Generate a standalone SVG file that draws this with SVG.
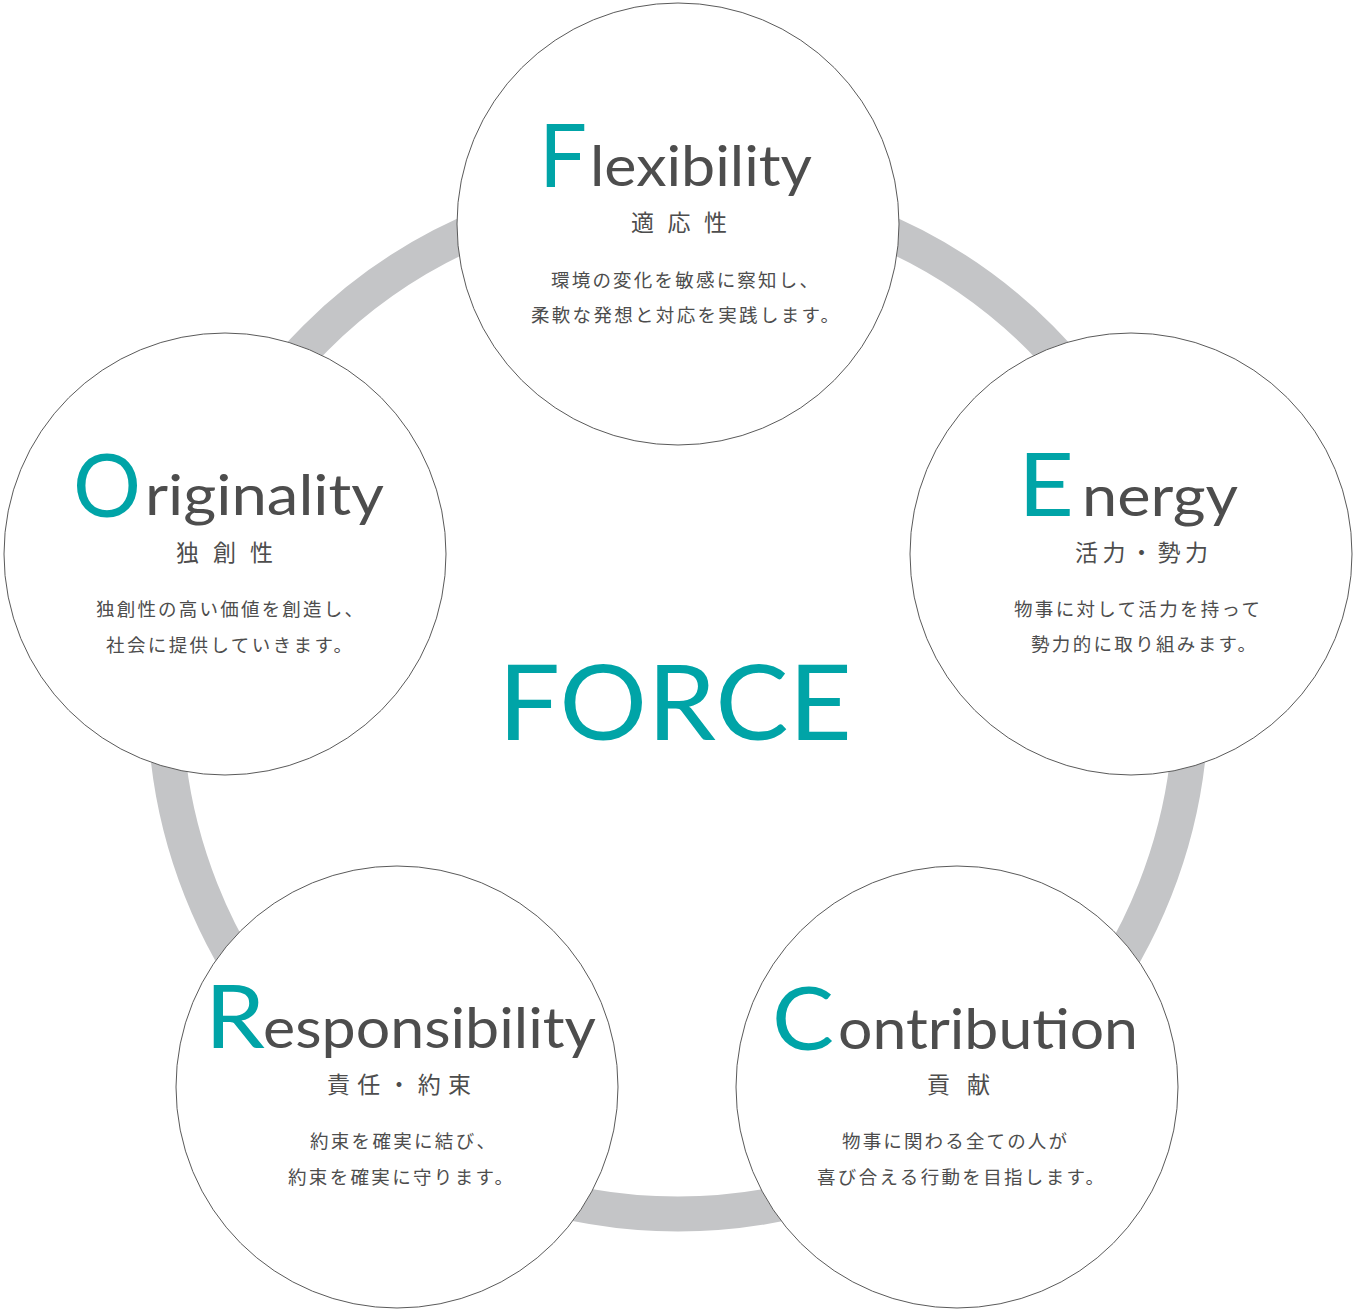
<svg xmlns="http://www.w3.org/2000/svg" width="1354" height="1310" viewBox="0 0 1354 1310">
<style>
.ring{fill:none;stroke:#c4c5c7;stroke-width:35}
.node{fill:#fff;stroke:#5a5a5a;stroke-width:1}
.cap{font-family:Lato,"Open Sans","Noto Sans",sans-serif;fill:#00a4a7;font-size:87px}
.word{font-family:Lato,"Open Sans","Noto Sans",sans-serif;fill:#4d4d4d;font-size:57px}
.sub{font-family:"Noto Sans CJK JP",sans-serif;fill:#4d4d4d;font-size:23px}
.desc{font-family:"Noto Sans CJK JP",sans-serif;fill:#4d4d4d;font-size:18.5px}
.force{font-family:Lato,"Open Sans","Noto Sans",sans-serif;fill:#00a4a7;font-size:104px}
</style>
<rect width="1354" height="1310" fill="#fff"/>
<g id="connectors">
<circle class="ring" cx="678" cy="701" r="513"/>
</g>
<g id="flexibility">
<circle class="node" cx="678" cy="224" r="221"/>
<text class="cap" x="539" y="187" textLength="48" lengthAdjust="spacingAndGlyphs">F</text>
<text class="word" x="590" y="186" textLength="222" lengthAdjust="spacingAndGlyphs">lexibility</text>
<text class="sub" x="631" y="231" textLength="96">適応性</text>
<text class="desc" x="551" y="287" textLength="267">環境の変化を敏感に察知し、</text>
<text class="desc" x="531" y="322" textLength="308">柔軟な発想と対応を実践します。</text>
</g>
<g id="energy">
<circle class="node" cx="1131" cy="554" r="221"/>
<text class="cap" x="1018" y="516" textLength="56" lengthAdjust="spacingAndGlyphs">E</text>
<text class="word" x="1082" y="516" textLength="156" lengthAdjust="spacingAndGlyphs">nergy</text>
<text class="sub" x="1075" y="561" textLength="133">活力・勢力</text>
<text class="desc" x="1014" y="616" textLength="246">物事に対して活力を持って</text>
<text class="desc" x="1031" y="651" textLength="225">勢力的に取り組みます。</text>
</g>
<g id="originality">
<circle class="node" cx="225" cy="554" r="221"/>
<text class="cap" x="73" y="517" textLength="68" lengthAdjust="spacingAndGlyphs">O</text>
<text class="word" x="145" y="515" textLength="239" lengthAdjust="spacingAndGlyphs">riginality</text>
<text class="sub" x="176" y="561" textLength="97">独創性</text>
<text class="desc" x="96" y="616" textLength="267">独創性の高い価値を創造し、</text>
<text class="desc" x="106" y="652" textLength="246">社会に提供していきます。</text>
</g>
<g id="responsibility">
<circle class="node" cx="397" cy="1087" r="221"/>
<text class="cap" x="205" y="1048" textLength="60" lengthAdjust="spacingAndGlyphs">R</text>
<text class="word" x="263" y="1048" textLength="333" lengthAdjust="spacingAndGlyphs">esponsibility</text>
<text class="sub" x="327" y="1093" textLength="144">責任・約束</text>
<text class="desc" x="310" y="1148" textLength="185">約束を確実に結び、</text>
<text class="desc" x="288" y="1184" textLength="225">約束を確実に守ります。</text>
</g>
<g id="contribution">
<circle class="node" cx="957" cy="1087" r="221"/>
<text class="cap" x="772" y="1050" textLength="62" lengthAdjust="spacingAndGlyphs">C</text>
<text class="word" x="838" y="1049" textLength="300" lengthAdjust="spacingAndGlyphs">ontribution</text>
<text class="sub" x="927" y="1093" textLength="63">貢献</text>
<text class="desc" x="842" y="1148" textLength="225">物事に関わる全ての人が</text>
<text class="desc" x="817" y="1184" textLength="287">喜び合える行動を目指します。</text>
</g>
<g id="force">
<text class="force" x="498" y="740" textLength="354" lengthAdjust="spacingAndGlyphs">FORCE</text>
</g>
</svg>
